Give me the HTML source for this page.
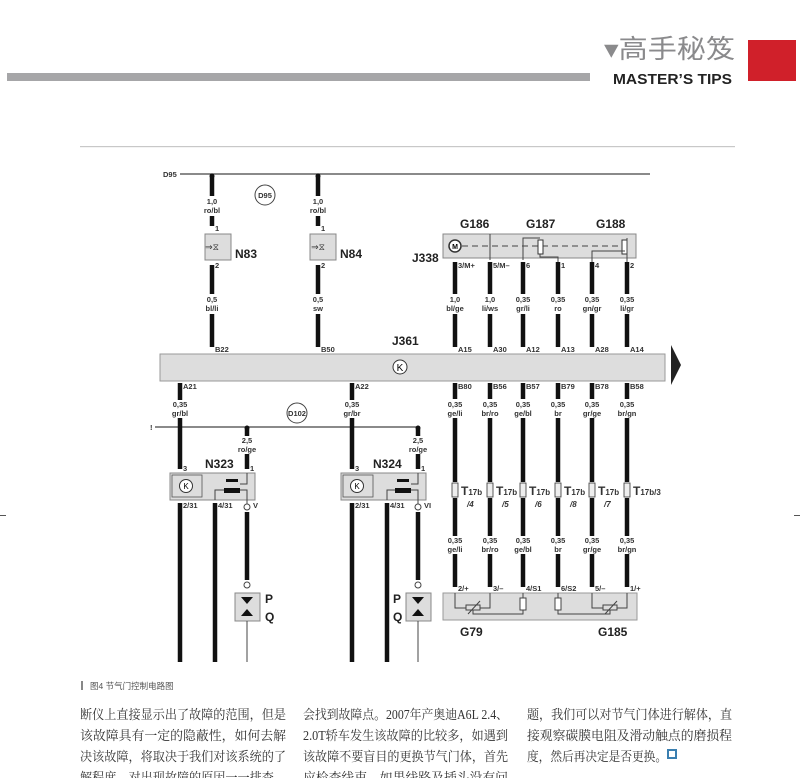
<!DOCTYPE html>
<html><head><meta charset="utf-8"><style>
html,body{margin:0;padding:0;background:#fff;width:800px;height:778px;overflow:hidden}
svg{display:block}
.l{font-family:"Liberation Sans",sans-serif;font-size:7.5px;font-weight:bold;fill:#333}
.c{font-family:"Liberation Sans",sans-serif;font-size:12px;font-weight:bold;fill:#222}
.t{font-family:"Liberation Serif","Noto Serif CJK SC","Noto Sans CJK SC",serif;font-size:13.2px;fill:#333}
</style></head><body>
<svg width="800" height="778" viewBox="0 0 800 778" xmlns="http://www.w3.org/2000/svg">
<!-- header -->
<rect x="7" y="73" width="583" height="8" fill="#a6a6a8"/>
<text x="604" y="58" font-family="'Liberation Sans','Noto Sans CJK SC',sans-serif" font-size="26" fill="#8a8a8c" textLength="131" lengthAdjust="spacingAndGlyphs">▾高手秘笈</text>
<text x="613" y="84" font-family="'Liberation Sans',sans-serif" font-size="15" font-weight="bold" fill="#222" textLength="119" lengthAdjust="spacingAndGlyphs">MASTER’S TIPS</text>
<rect x="748" y="40" width="48" height="41" fill="#d0202a"/>
<rect x="80" y="146" width="655" height="1.2" fill="#c8c8c8"/>

<!-- D95 bus -->
<text class="l" x="163" y="177">D95</text>
<line x1="180" y1="174" x2="650" y2="174" stroke="#444" stroke-width="1.2"/>
<circle cx="265" cy="195" r="10" fill="#fff" stroke="#444"/><text class="l" x="265" y="198" text-anchor="middle" font-size="6.5">D95</text>

<g stroke="#111" stroke-width="4.5">
<line x1="212" y1="176" x2="212" y2="196"/><line x1="212" y1="216" x2="212" y2="226"/>
<line x1="212" y1="265" x2="212" y2="294"/><line x1="212" y1="314" x2="212" y2="347"/>
<line x1="318" y1="176" x2="318" y2="196"/><line x1="318" y1="216" x2="318" y2="226"/>
<line x1="318" y1="265" x2="318" y2="294"/><line x1="318" y1="314" x2="318" y2="347"/>
</g>
<circle cx="212" cy="176" r="2.5" fill="#111"/><circle cx="318" cy="176" r="2.5" fill="#111"/>
<text class="l" x="212" y="204" text-anchor="middle">1,0</text><text class="l" x="212" y="213" text-anchor="middle">ro/bl</text>
<text class="l" x="318" y="204" text-anchor="middle">1,0</text><text class="l" x="318" y="213" text-anchor="middle">ro/bl</text>
<text class="l" x="212" y="302" text-anchor="middle">0,5</text><text class="l" x="212" y="311" text-anchor="middle">bl/li</text>
<text class="l" x="318" y="302" text-anchor="middle">0,5</text><text class="l" x="318" y="311" text-anchor="middle">sw</text>
<text class="l" x="215" y="231">1</text><text class="l" x="215" y="268">2</text>
<text class="l" x="321" y="231">1</text><text class="l" x="321" y="268">2</text>
<text class="l" x="215" y="352">B22</text><text class="l" x="321" y="352">B50</text>
<rect x="205" y="234" width="26" height="26" fill="#ddd" stroke="#888"/>
<rect x="310" y="234" width="26" height="26" fill="#ddd" stroke="#888"/>
<text x="212" y="250" font-size="9" text-anchor="middle" fill="#333">⇒⧖</text>
<text x="318" y="250" font-size="9" text-anchor="middle" fill="#333">⇒⧖</text>
<text class="c" x="235" y="258">N83</text><text class="c" x="340" y="258">N84</text>

<!-- J338 -->
<text class="c" x="460" y="228">G186</text><text class="c" x="526" y="228">G187</text><text class="c" x="596" y="228">G188</text>
<text class="c" x="412" y="262">J338</text>
<rect x="443" y="234" width="193" height="24" fill="#ddd" stroke="#888"/>
<line x1="462" y1="246" x2="625" y2="246" stroke="#444" stroke-dasharray="6,4"/>
<circle cx="455" cy="246" r="6" fill="#fff" stroke="#333" stroke-width="1.5"/><text x="455" y="249" font-size="7" font-weight="bold" text-anchor="middle" font-family="Liberation Sans">M</text>
<rect x="538" y="240" width="5" height="14" fill="#fff" stroke="#333"/><rect x="622" y="240" width="5" height="14" fill="#fff" stroke="#333"/>
<polyline points="490,234 490,260" stroke="#444" fill="none"/>
<polyline points="523,260 523,238 540,238" stroke="#444" fill="none"/>
<polyline points="540,254 540,257 558,257 558,262" stroke="#444" fill="none"/>
<polyline points="592,262 592,251 625,251" stroke="#444" fill="none"/>
<polyline points="627,238 627,262" stroke="#444" fill="none"/>

<g stroke="#111" stroke-width="4.5">
<line x1="455" y1="262" x2="455" y2="294"/><line x1="455" y1="314" x2="455" y2="347"/>
<line x1="490" y1="262" x2="490" y2="294"/><line x1="490" y1="314" x2="490" y2="347"/>
<line x1="523" y1="262" x2="523" y2="294"/><line x1="523" y1="314" x2="523" y2="347"/>
<line x1="558" y1="262" x2="558" y2="294"/><line x1="558" y1="314" x2="558" y2="347"/>
<line x1="592" y1="262" x2="592" y2="294"/><line x1="592" y1="314" x2="592" y2="347"/>
<line x1="627" y1="262" x2="627" y2="294"/><line x1="627" y1="314" x2="627" y2="347"/>
</g>
<g class="l">
<text x="458" y="268">3/M+</text><text x="493" y="268">5/M–</text><text x="526" y="268">6</text><text x="561" y="268">1</text><text x="595" y="268">4</text><text x="630" y="268">2</text>
</g>
<g class="l" text-anchor="middle">
<text x="455" y="302">1,0</text><text x="455" y="311">bl/ge</text>
<text x="490" y="302">1,0</text><text x="490" y="311">li/ws</text>
<text x="523" y="302">0,35</text><text x="523" y="311">gr/li</text>
<text x="558" y="302">0,35</text><text x="558" y="311">ro</text>
<text x="592" y="302">0,35</text><text x="592" y="311">gn/gr</text>
<text x="627" y="302">0,35</text><text x="627" y="311">li/gr</text>
</g>
<g class="l">
<text x="458" y="352">A15</text><text x="493" y="352">A30</text><text x="526" y="352">A12</text><text x="561" y="352">A13</text><text x="595" y="352">A28</text><text x="630" y="352">A14</text>
</g>

<!-- J361 bar -->
<text class="c" x="392" y="345">J361</text>
<rect x="160" y="354" width="505" height="27" fill="#ddd" stroke="#999"/>
<circle cx="400" cy="367" r="7" fill="#fff" stroke="#333"/><text x="400" y="371" font-size="10" text-anchor="middle" font-family="Liberation Sans">K</text>
<polygon points="671,345 681,365 671,385" fill="#222"/>

<!-- lower right -->
<g class="l">
<text x="183" y="389">A21</text><text x="355" y="389">A22</text>
<text x="458" y="389">B80</text><text x="493" y="389">B56</text><text x="526" y="389">B57</text><text x="561" y="389">B79</text><text x="595" y="389">B78</text><text x="630" y="389">B58</text>
</g>
<g stroke="#111" stroke-width="4.5">
<line x1="455" y1="383" x2="455" y2="399"/><line x1="455" y1="418" x2="455" y2="482"/><line x1="455" y1="498" x2="455" y2="536"/><line x1="455" y1="554" x2="455" y2="587"/>
<line x1="490" y1="383" x2="490" y2="399"/><line x1="490" y1="418" x2="490" y2="482"/><line x1="490" y1="498" x2="490" y2="536"/><line x1="490" y1="554" x2="490" y2="587"/>
<line x1="523" y1="383" x2="523" y2="399"/><line x1="523" y1="418" x2="523" y2="482"/><line x1="523" y1="498" x2="523" y2="536"/><line x1="523" y1="554" x2="523" y2="587"/>
<line x1="558" y1="383" x2="558" y2="399"/><line x1="558" y1="418" x2="558" y2="482"/><line x1="558" y1="498" x2="558" y2="536"/><line x1="558" y1="554" x2="558" y2="587"/>
<line x1="592" y1="383" x2="592" y2="399"/><line x1="592" y1="418" x2="592" y2="482"/><line x1="592" y1="498" x2="592" y2="536"/><line x1="592" y1="554" x2="592" y2="587"/>
<line x1="627" y1="383" x2="627" y2="399"/><line x1="627" y1="418" x2="627" y2="482"/><line x1="627" y1="498" x2="627" y2="536"/><line x1="627" y1="554" x2="627" y2="587"/>
</g>
<g class="l" text-anchor="middle">
<text x="455" y="407">0,35</text><text x="455" y="416">ge/li</text>
<text x="490" y="407">0,35</text><text x="490" y="416">br/ro</text>
<text x="523" y="407">0,35</text><text x="523" y="416">ge/bl</text>
<text x="558" y="407">0,35</text><text x="558" y="416">br</text>
<text x="592" y="407">0,35</text><text x="592" y="416">gr/ge</text>
<text x="627" y="407">0,35</text><text x="627" y="416">br/gn</text>
<text x="455" y="543">0,35</text><text x="455" y="552">ge/li</text>
<text x="490" y="543">0,35</text><text x="490" y="552">br/ro</text>
<text x="523" y="543">0,35</text><text x="523" y="552">ge/bl</text>
<text x="558" y="543">0,35</text><text x="558" y="552">br</text>
<text x="592" y="543">0,35</text><text x="592" y="552">gr/ge</text>
<text x="627" y="543">0,35</text><text x="627" y="552">br/gn</text>
</g>
<g fill="#eee" stroke="#333" stroke-width="0.8">
<rect x="452" y="483" width="6" height="14"/><rect x="487" y="483" width="6" height="14"/><rect x="520" y="483" width="6" height="14"/>
<rect x="555" y="483" width="6" height="14"/><rect x="589" y="483" width="6" height="14"/><rect x="624" y="483" width="6" height="14"/>
</g>
<g font-family="Liberation Sans" font-weight="bold" fill="#333">
<text x="461" y="495" font-size="12">T<tspan font-size="8">17b</tspan></text><text x="467" y="507" font-size="8" font-style="italic">/4</text>
<text x="496" y="495" font-size="12">T<tspan font-size="8">17b</tspan></text><text x="502" y="507" font-size="8" font-style="italic">/5</text>
<text x="529" y="495" font-size="12">T<tspan font-size="8">17b</tspan></text><text x="535" y="507" font-size="8" font-style="italic">/6</text>
<text x="564" y="495" font-size="12">T<tspan font-size="8">17b</tspan></text><text x="570" y="507" font-size="8" font-style="italic">/8</text>
<text x="598" y="495" font-size="12">T<tspan font-size="8">17b</tspan></text><text x="604" y="507" font-size="8" font-style="italic">/7</text>
<text x="633" y="495" font-size="12">T<tspan font-size="8">17b/3</tspan></text>
</g>
<g class="l">
<text x="458" y="591">2/+</text><text x="493" y="591">3/–</text><text x="526" y="591">4/S1</text><text x="561" y="591">6/S2</text><text x="595" y="591">5/–</text><text x="630" y="591">1/+</text>
</g>
<rect x="443" y="593" width="194" height="27" fill="#ddd" stroke="#999"/>
<g stroke="#444" fill="none">
<polyline points="455,593 455,608 466,608"/><rect x="466" y="605" width="14" height="5"/><polyline points="480,608 490,608 490,593"/>
<line x1="468" y1="614" x2="480" y2="601"/>
<polyline points="473,610 473,614 523,614 523,610"/><rect x="520" y="598" width="6" height="12" fill="#fff"/><line x1="523" y1="593" x2="523" y2="598"/>
<rect x="555" y="598" width="6" height="12" fill="#fff"/><line x1="558" y1="593" x2="558" y2="598"/><polyline points="558,610 558,614 610,614 610,610"/>
<polyline points="592,593 592,608 603,608"/><rect x="603" y="605" width="14" height="5"/><polyline points="617,608 627,608 627,593"/>
<line x1="605" y1="614" x2="617" y2="601"/>
</g>
<text class="c" x="460" y="636">G79</text><text class="c" x="598" y="636">G185</text>

<!-- lower left -->
<text class="l" x="150" y="430">!</text>
<line x1="155" y1="427" x2="420" y2="427" stroke="#444" stroke-width="1.2"/>
<circle cx="297" cy="413" r="10" fill="#fff" stroke="#444"/><text class="l" x="297" y="416" text-anchor="middle" font-size="6.5">D102</text>
<g stroke="#111" stroke-width="4.5">
<line x1="180" y1="383" x2="180" y2="400"/><line x1="180" y1="418" x2="180" y2="469"/><line x1="180" y1="503" x2="180" y2="662"/>
<line x1="352" y1="383" x2="352" y2="400"/><line x1="352" y1="418" x2="352" y2="469"/><line x1="352" y1="503" x2="352" y2="662"/>
<line x1="247" y1="429" x2="247" y2="436"/><line x1="247" y1="454" x2="247" y2="469"/>
<line x1="418" y1="429" x2="418" y2="436"/><line x1="418" y1="454" x2="418" y2="469"/>
<line x1="215" y1="503" x2="215" y2="662"/><line x1="387" y1="503" x2="387" y2="662"/>
<line x1="247" y1="512" x2="247" y2="580"/><line x1="418" y1="512" x2="418" y2="580"/>
</g>
<circle cx="247" cy="428" r="2.5" fill="#111"/><circle cx="418" cy="428" r="2.5" fill="#111"/>
<g class="l" text-anchor="middle">
<text x="180" y="407">0,35</text><text x="180" y="416">gr/bl</text>
<text x="352" y="407">0,35</text><text x="352" y="416">gr/br</text>
<text x="247" y="443">2,5</text><text x="247" y="452">ro/ge</text>
<text x="418" y="443">2,5</text><text x="418" y="452">ro/ge</text>
</g>
<g class="l">
<text x="183" y="471">3</text><text x="250" y="471">1</text><text x="355" y="471">3</text><text x="421" y="471">1</text>
<text x="183" y="508">2/31</text><text x="218" y="508">4/31</text><text x="253" y="508">V</text>
<text x="355" y="508">2/31</text><text x="390" y="508">4/31</text><text x="424" y="508">VI</text>
</g>
<text class="c" x="205" y="468">N323</text><text class="c" x="373" y="468">N324</text>
<g>
<rect x="170" y="473" width="85" height="27" fill="#ddd" stroke="#888"/>
<rect x="172" y="475" width="30" height="22" fill="#ddd" stroke="#555" stroke-width="0.8"/>
<circle cx="186" cy="486" r="6.5" fill="#fff" stroke="#333"/><text x="186" y="489" font-size="8" text-anchor="middle" font-family="Liberation Sans">K</text>
<rect x="226" y="479" width="12" height="3" fill="#111"/><rect x="224" y="488" width="16" height="5" fill="#111"/>
<polyline points="247,473 247,484 240,484" stroke="#444" fill="none"/>
<polyline points="215,500 215,490 224,490" stroke="#444" fill="none"/>
<polyline points="240,490 247,490 247,504" stroke="#444" fill="none"/>
</g>
<g transform="translate(171,0)">
<rect x="170" y="473" width="85" height="27" fill="#ddd" stroke="#888"/>
<rect x="172" y="475" width="30" height="22" fill="#ddd" stroke="#555" stroke-width="0.8"/>
<circle cx="186" cy="486" r="6.5" fill="#fff" stroke="#333"/><text x="186" y="489" font-size="8" text-anchor="middle" font-family="Liberation Sans">K</text>
<rect x="226" y="479" width="12" height="3" fill="#111"/><rect x="224" y="488" width="16" height="5" fill="#111"/>
<polyline points="247,473 247,484 240,484" stroke="#444" fill="none"/>
<polyline points="216,500 216,490 224,490" stroke="#444" fill="none"/>
<polyline points="240,490 247,490 247,504" stroke="#444" fill="none"/>
</g>
<g fill="#fff" stroke="#444">
<circle cx="247" cy="507" r="3"/><circle cx="247" cy="585" r="3"/>
<circle cx="418" cy="507" r="3"/><circle cx="418" cy="585" r="3"/>
</g>
<rect x="235" y="593" width="25" height="28" fill="#ddd" stroke="#888"/>
<rect x="406" y="593" width="25" height="28" fill="#ddd" stroke="#888"/>
<polygon points="241,597 253,597 247,604" fill="#111"/><polygon points="241,616 253,616 247,609" fill="#111"/>
<polygon points="412,597 424,597 418,604" fill="#111"/><polygon points="412,616 424,616 418,609" fill="#111"/>
<line x1="247" y1="621" x2="247" y2="662" stroke="#444"/><line x1="418" y1="621" x2="418" y2="662" stroke="#444"/>
<text class="c" x="265" y="603">P</text><text class="c" x="265" y="621">Q</text>
<text class="c" x="393" y="603">P</text><text class="c" x="393" y="621">Q</text>
<rect x="0" y="515" width="6" height="1" fill="#555"/><rect x="794" y="515" width="6" height="1" fill="#555"/>

<!-- caption & body -->
<rect x="81" y="681" width="2" height="9" fill="#888"/>
<text x="90" y="689" font-family="'Liberation Sans','Noto Sans CJK SC',sans-serif" font-size="8.5" fill="#555">图4 节气门控制电路图</text>
<g class="t">
<text x="80" y="719" textLength="206" lengthAdjust="spacingAndGlyphs">断仪上直接显示出了故障的范围，但是</text>
<text x="80" y="740" textLength="206" lengthAdjust="spacingAndGlyphs">该故障具有一定的隐蔽性，如何去解</text>
<text x="80" y="761" textLength="206" lengthAdjust="spacingAndGlyphs">决该故障，将取决于我们对该系统的了</text>
<text x="80" y="782" textLength="206" lengthAdjust="spacingAndGlyphs">解程度，对出现故障的原因一一排查，</text>
<text x="303" y="719" textLength="205" lengthAdjust="spacingAndGlyphs">会找到故障点。2007年产奥迪A6L 2.4、</text>
<text x="303" y="740" textLength="205" lengthAdjust="spacingAndGlyphs">2.0T轿车发生该故障的比较多，如遇到</text>
<text x="303" y="761" textLength="205" lengthAdjust="spacingAndGlyphs">该故障不要盲目的更换节气门体，首先</text>
<text x="303" y="782" textLength="205" lengthAdjust="spacingAndGlyphs">应检查线束，如果线路及插头没有问</text>
<text x="527" y="719" textLength="205" lengthAdjust="spacingAndGlyphs">题，我们可以对节气门体进行解体，直</text>
<text x="527" y="740" textLength="205" lengthAdjust="spacingAndGlyphs">接观察碳膜电阻及滑动触点的磨损程</text>
<text x="527" y="761" textLength="140" lengthAdjust="spacingAndGlyphs">度，然后再决定是否更换。</text>
</g>
<rect x="668" y="750" width="8" height="8" fill="#fff" stroke="#3a7fb0" stroke-width="2"/>
</svg>
</body></html>
